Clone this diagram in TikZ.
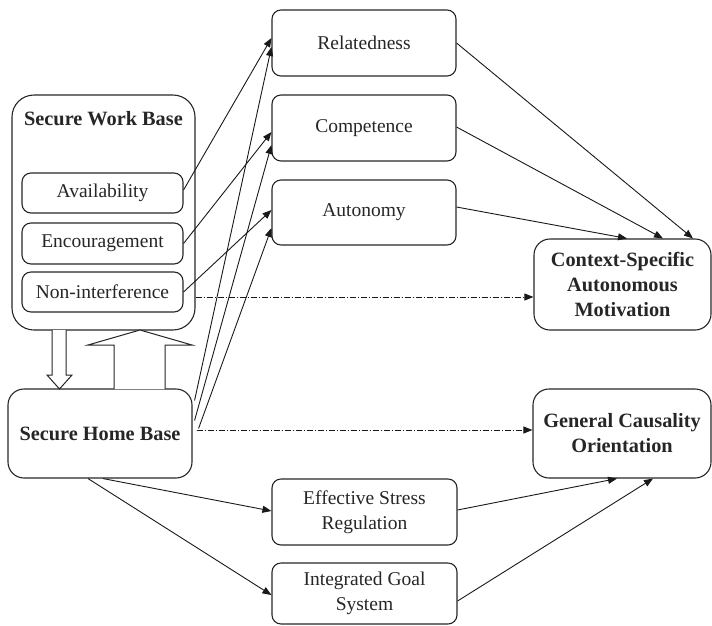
\documentclass[tikz,border=0pt]{standalone}
\usepackage{fontspec}
\setmainfont{Liberation Serif}
\usetikzlibrary{arrows.meta,calc}

\begin{document}
\begin{tikzpicture}[x=1pt,y=-1pt,
  box/.style={draw=black!85, line width=1.1pt, rounded corners=9pt, inner sep=0pt,
    align=center, text=black!85, font=\fontsize{19.5}{25}\selectfont},
  bigbox/.style={box, rounded corners=16pt, font=\bfseries\fontsize{20.3}{25}\selectfont},
  conn/.style={draw=black!90, line width=0.9pt, -{Triangle[length=9pt,width=7pt]}},
  dashdot/.style={conn, dash pattern=on 6pt off 2pt on 1pt off 2pt},
  hollow/.style={draw=black!85, line width=1pt, fill=white, line join=miter}]
\useasboundingbox (0,0) rectangle (712,625);

% secure work base and its three facets
\node[bigbox, rounded corners=22pt, minimum width=183pt, minimum height=235pt] (swb) at (103.5,212.5) {};
\node[font=\bfseries\fontsize{20.3}{25}\selectfont, text=black!85] (swbtitle) at (103.5,119) {Secure Work Base};
\node[box, minimum width=161pt, minimum height=40pt] (avail)  at (102.5,193)   {Availability};
\node[box, minimum width=161pt, minimum height=41pt] (enc)    at (102.5,243.5) {Encouragement};
\node[box, minimum width=161pt, minimum height=40pt] (nonint) at (102.5,292)   {Non-interference};

% secure home base
\node[bigbox, minimum width=184pt, minimum height=89pt] (home) at (100,433.5) {Secure Home Base};

% basic needs
\node[box, minimum width=184pt, minimum height=66pt] (rel)   at (364,43)    {Relatedness};
\node[box, minimum width=184pt, minimum height=66pt] (comp)  at (364,128)   {Competence};
\node[box, minimum width=184pt, minimum height=65pt] (auton) at (364,212.5) {Autonomy};

% outcomes
\node[bigbox, minimum width=177pt, minimum height=91pt] (ctx) at (622.5,284.5) {Context-Specific\\Autonomous\\Motivation};
\node[bigbox, minimum width=178pt, minimum height=89pt] (gen) at (622,433.5) {General Causality\\Orientation};

% mediators of general orientation
\node[box, minimum width=185pt, minimum height=66pt] (stress) at (364.5,512)   {Effective Stress\\Regulation};
\node[box, minimum width=185pt, minimum height=61pt] (goal)   at (364.5,593.5) {Integrated Goal\\System};

% broad hollow arrows between the two bases
\draw[hollow] (52,330) -- (52,375) -- (47,375) -- (59.5,389) -- (72,375) -- (66,375) -- (66,330);
\draw[hollow] (114,389) -- (114,345) -- (88,345) -- (140,330) -- (192,345) -- (165,345) -- (165,389);

% facets to needs
\draw[conn] ([yshift=3pt]avail.east) -- ([yshift=5pt]rel.west);
\draw[conn] (enc.east) -- ([yshift=-4pt]comp.west);
\draw[conn] (nonint.east) -- ([yshift=2.5pt]auton.west);

% home base to needs
\draw[conn] ([xshift=2pt,yshift=33pt]home.east) -- ([yshift=-4pt]rel.west);
\draw[conn] ([xshift=2pt,yshift=13pt]home.east) -- ([yshift=-17pt]comp.west);
\draw[conn] ([xshift=6pt,yshift=5pt]home.east) -- ([yshift=-15.5pt]auton.west);

% needs to context-specific motivation
\draw[conn] (rel.east) -- ([xshift=70.5pt]ctx.north);
\draw[conn] ([yshift=1pt]comp.east) -- ([xshift=40.5pt]ctx.north);
\draw[conn] ([yshift=5.5pt]auton.east) -- ([xshift=4.5pt]ctx.north);

% direct paths
\draw[dashdot] ([yshift=-84.5pt]swb.east) -- ([yshift=-12.5pt]ctx.west);
\draw[dashdot] ([xshift=4pt,yshift=3.5pt]home.east) -- ([yshift=3.5pt]gen.west);

% home base to mediators and on to general orientation
\draw[conn] ([xshift=3pt]home.south) -- ([yshift=1pt]stress.west);
\draw[conn] ([xshift=-12pt]home.south) -- ([yshift=-1.5pt]goal.west);
\draw[conn] ([yshift=2pt]stress.east) -- ([xshift=-5pt]gen.south);
\draw[conn] ([yshift=-7.5pt]goal.east) -- ([xshift=31pt]gen.south);
\end{tikzpicture}
\end{document}
